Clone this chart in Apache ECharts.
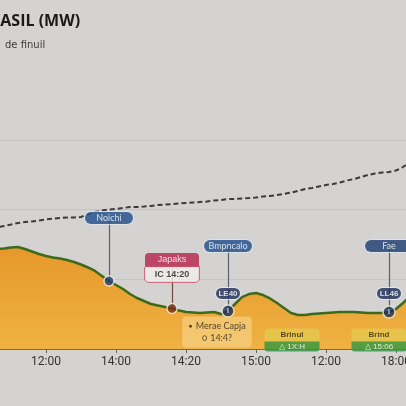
<!DOCTYPE html>
<html>
<head>
<meta charset="utf-8">
<script src="https://cdn.jsdelivr.net/npm/echarts@6/dist/echarts.min.js"></script>
<style>
  html, body { margin: 0; padding: 0; background: #d5d3d1; }
  #chart { width: 406px; height: 406px; }
</style>
</head>
<body>
<div id="chart"></div>
<script>
// tick labels shown on the x axis, and the sample index they sit on
const tickLabels = ['12:00', '14:00', '14:20', '15:00', '12:00', '18:00'];
const tickIdx = [10, 20, 30, 40, 50, 60];

// generation (MW) - orange area with green edge
const geracao = [1407, 1421, 1421, 1435, 1443, 1457, 1464, 1435, 1400, 1364,
  1335, 1313, 1299, 1278, 1249, 1213, 1170, 1120, 1048, 976,
  919, 861, 789, 732, 689, 646, 624, 603, 581, 553,
  531, 524, 517, 524, 531, 502, 545, 646, 746, 789,
  804, 775, 725, 660, 589, 517, 488, 488, 502, 510,
  517, 524, 531, 531, 531, 524, 517, 517, 517, 531,
  574, 660, 761];

// demand (MW) - dashed line
const demanda = [1694, 1708, 1722, 1744, 1766, 1787, 1809, 1823, 1830, 1844,
  1859, 1873, 1880, 1888, 1888, 1895, 1938, 1966, 1988, 2002,
  2010, 2024, 2038, 2038, 2045, 2053, 2067, 2074, 2081, 2089,
  2096, 2103, 2110, 2117, 2132, 2139, 2153, 2153, 2160, 2167,
  2175, 2189, 2196, 2211, 2225, 2246, 2268, 2297, 2311, 2333,
  2354, 2368, 2390, 2419, 2440, 2469, 2498, 2519, 2533, 2541,
  2562, 2612, 2684];

// callouts: name, sample index, value of the label
const calloutNames = ['Noichi', 'Japaks', 'Bmpncalo', 'Fae'];
const calloutIdx = [19, 28, 36, 59];
const calloutLabelVal = [1880, 1170, 1478, 1478];
const calloutSub = ['', 'IC 14:20', 'LE40', 'LL46'];
const calloutSubVal = [0, 0, 797, 797];

// boxes at the bottom
const boxNames = ['Merae Capja', 'Brinul', 'Brind'];
const boxTimes = ['14:4?', '1X:H', '15:06'];
const boxIdx = [34, 45, 57];
const boxVal = [244, 129, 129];

const categories = geracao.map((v, i) => String(i));

const chart = echarts.init(document.getElementById('chart'));

const pill = (bg) => ({
  width: 48, height: 12, backgroundColor: bg, borderRadius: 6,
  borderColor: '#dfe5ee', borderWidth: 1,
  color: '#fff', fontSize: 9, align: 'center', fontFamily: 'Lato'
});
const smallPill = {
  width: 24, height: 11, backgroundColor: '#1b2d55', borderRadius: 6,
  borderColor: '#e6eaf0', borderWidth: 1,
  color: '#fff', fontSize: 8, fontWeight: 'bold', align: 'center'
};

const dotColors = ['#1f416f', '#7c2c12', '#1c2e55', '#1c2e55'];

// vertical connector lines, dot -> label
const connectors = calloutIdx.map((ix, k) => [
  { coord: [ix, geracao[ix]] },
  { coord: [ix, calloutLabelVal[k]], lineStyle: { color: k === 1 ? '#6b4c40' : '#5a5f6a' } }
]);

const labelData = [];
calloutIdx.forEach((ix, k) => {
  let fmt;
  if (k === 1) fmt = '{h|' + calloutNames[k] + '}\n{b|' + calloutSub[k] + '}';
  else fmt = '{p' + (k === 3 ? 'd' : '') + '|' + calloutNames[k] + '}';
  labelData.push({ value: [ix, calloutLabelVal[k]], label: { formatter: fmt } });
  if (calloutSubVal[k]) {
    labelData.push({ value: [ix, calloutSubVal[k]], label: { formatter: '{s|' + calloutSub[k] + '}' } });
  }
});
// bottom boxes
labelData.push({
  value: [boxIdx[0], boxVal[0]],
  label: {
    formatter: '{d|●} {t|' + boxNames[0] + '}\n{t|○ ' + boxTimes[0] + '}',
    offset: [3, 0],
    backgroundColor: 'rgba(248,224,160,0.62)', borderRadius: 4, padding: [4, 6, 3, 6], lineHeight: 12
  }
});
[1, 2].forEach(k => {
  labelData.push({
    value: [boxIdx[k], boxVal[k]],
    label: {
      formatter: '{gh|' + boxNames[k] + '}\n{gb|△ ' + boxTimes[k] + '}',
      offset: [k === 2 ? 4 : 1, 0]
    }
  });
});

const option = {
  backgroundColor: '#d5d3d1',
  animation: false,
  title: [
    {
      text: 'BRASIL (MW)', left: -26, top: 8,
      textStyle: { fontSize: 16, fontWeight: 'bold', color: '#1a1a1a', fontFamily: 'Open Sans' }
    },
    {
      text: 'de finuil', left: 0, top: 35,
      textStyle: { fontSize: 10, fontWeight: 'normal', color: '#3c3c3c', fontFamily: 'DejaVu Sans' }
    }
  ],
  grid: { left: -24, right: -4, top: 140, bottom: 57, outerBoundsMode: 'none', containLabel: false },
  xAxis: {
    type: 'category',
    boundaryGap: false,
    data: categories,
    axisLine: { lineStyle: { color: '#6a4a2c', width: 1.5 } },
    axisTick: {
      show: true, length: 4,
      interval: (i) => tickIdx.indexOf(i) >= 0,
      lineStyle: { color: '#666' }
    },
    axisLabel: {
      interval: (i) => tickIdx.indexOf(i) >= 0,
      formatter: (v, i) => tickLabels[tickIdx.indexOf(i)] || '',
      color: '#333', fontSize: 12, margin: 7, fontFamily: 'Roboto'
    },
    splitLine: { show: false }
  },
  yAxis: {
    type: 'value',
    min: 0, max: 3000, interval: 1000,
    axisLabel: { show: false },
    axisLine: { show: false },
    axisTick: { show: false },
    splitLine: { lineStyle: { color: '#c6c4c2', width: 1 } }
  },
  series: [
    {
      name: 'Geração',
      type: 'line',
      data: geracao,
      symbol: 'none',
      lineStyle: { color: '#3b6a1c', width: 2.5 },
      areaStyle: {
        opacity: 1,
        color: new echarts.graphic.LinearGradient(0, 0, 0, 1, [
          { offset: 0, color: '#e6982a' },
          { offset: 1, color: '#efb243' }
        ])
      },
      z: 2
    },
    {
      name: 'Demanda',
      type: 'line',
      data: demanda,
      symbol: 'none',
      lineStyle: { color: '#3a3a3a', width: 2, type: [5, 3] },
      markLine: {
        silent: true,
        symbol: 'none',
        label: { show: false },
        lineStyle: { type: 'solid', width: 1.2, color: '#5a5f6a' },
        data: connectors
      },
      z: 3
    },
    {
      name: 'pontos',
      type: 'scatter',
      data: calloutIdx.map((ix, k) => ({
        value: [ix, geracao[ix]],
        symbolSize: k >= 2 ? 12 : 10,
        itemStyle: { color: dotColors[k], borderColor: '#f4efe6', borderWidth: 1.5 },
        label: k >= 2 ? { show: true, formatter: 'I', color: '#fff', fontSize: 7, fontWeight: 'bold' } : { show: false }
      })),
      z: 5
    },
    {
      name: 'rotulos',
      type: 'scatter',
      symbolSize: 1,
      itemStyle: { color: 'rgba(0,0,0,0)' },
      data: labelData,
      label: {
        show: true,
        position: 'inside',
        rich: {
          p: pill('#1d4b8a'),
          pd: pill('#1b3c70'),
          s: smallPill,
          h: {
            width: 54, height: 14, backgroundColor: '#b5234a', borderRadius: [4, 4, 0, 0],
            color: '#fff', fontSize: 9, align: 'center'
          },
          b: {
            width: 54, height: 15, backgroundColor: '#f3efec', borderRadius: [0, 0, 4, 4],
            borderColor: '#c9566f', borderWidth: 1,
            color: '#222', fontSize: 9, fontWeight: 'bold', align: 'center'
          },
          d: { color: '#2a1f14', fontSize: 7 },
          t: { color: '#2e2414', fontSize: 9, fontFamily: 'Lato' },
          gh: {
            width: 55, height: 13, backgroundColor: '#e3c84f', borderRadius: [4, 4, 0, 0],
            color: '#3a2c0e', fontSize: 8, fontWeight: 'bold', align: 'center'
          },
          gb: {
            width: 55, height: 10, backgroundColor: '#2f9741', borderRadius: [0, 0, 3, 3],
            color: '#fff', fontSize: 8, align: 'center'
          }
        }
      },
      z: 6
    }
  ]
};

chart.setOption(option);
window.addEventListener('resize', () => {
  chart.resize();
});
</script>
</body>
</html>
